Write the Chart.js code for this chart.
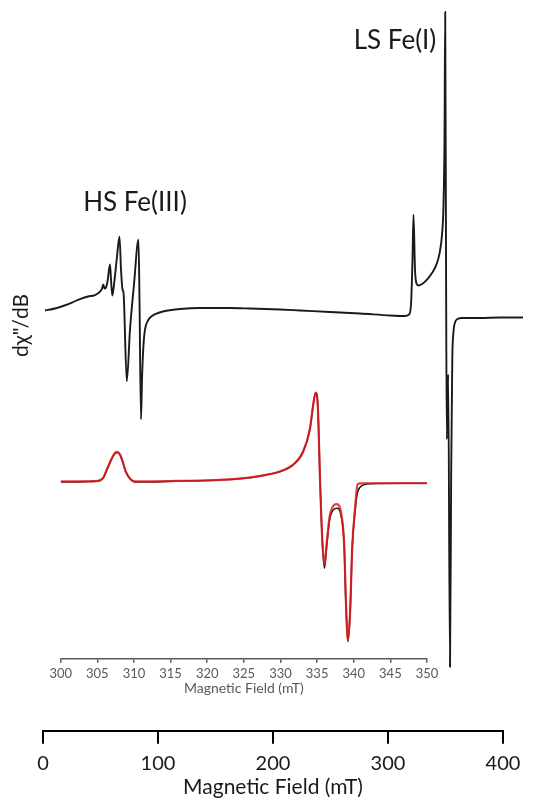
<!DOCTYPE html>
<html><head><meta charset="utf-8">
<script src="https://cdn.jsdelivr.net/npm/chart.js@4.4.1/dist/chart.umd.min.js"></script>
<style>
html,body{margin:0;padding:0;background:#fff;}
#wrap{position:relative;width:545px;height:808px;}
#wrap canvas{position:absolute;left:0;top:0;}
</style></head><body>
<div id="wrap"><canvas id="main" width="545" height="808"></canvas><canvas id="inset" width="545" height="808"></canvas></div>
<script>
// ---- main spectrum (full sweep) ----
const mainField = [1.74,10.43,17.39,25.22,32.17,39.13,45.22,49.57,51.30,52.43,53.48,54.78,56.09,58.26,59.13,60.26,61.74,63.91,66.52,67.83,69.13,70.00,72.87,75.65,79.13,83.04,83.91,85.22,86.09,87.39,88.70,91.30,94.78,100.0,106.09,119.13,136.52,162.61,180.0,206.09,223.48,249.57,275.65,301.74,314.78,318.26,320.0,321.30,322.17,323.48,324.78,326.52,329.57,333.91,338.26,341.74,344.78,346.96,348.26,349.13,349.74,350.43,351.13,352.35,353.91,354.96,355.91,356.96,358.26,360.43,364.35,380.0,397.39,417.39];
const mainSignal = [0.9,1.1,1.35,1.7,2.05,2.3,2.45,2.8,3.1,3.5,3.1,3.2,3.8,5.5,4.0,2.4,3.5,5.8,8.3,5.0,3.0,2.7,-6.2,-1.0,3.5,8.0,2.0,-10.0,-6.0,-2.5,-1.0,-0.1,0.35,0.65,0.85,1.05,1.15,1.15,1.1,1.0,0.9,0.75,0.6,0.4,0.35,0.5,1.5,6.0,10.5,5.0,3.6,3.4,3.55,4.0,4.65,5.4,6.6,8.5,11.5,18.0,30.8,7.0,-12.0,-5.5,-34.8,-15.0,-4.0,-1.2,-0.3,0.05,0.15,0.15,0.2,0.2];
const mainTicks = [0,100,200,300,400];

// ---- inset (300-350 mT): experiment (black) and simulation (red) ----
const insetField = [300,302,304,305.1,305.8,306.3,306.9,307.3,307.7,308.1,308.5,308.9,309.5,310.1,312,316,320,324,326,328,329.9,331.7,333.1,334.0,334.5,334.8,335.1,335.4,335.7,336.0,336.3,336.7,337.2,337.7,338.3,338.7,338.9,339.2,339.5,339.8,340.2,340.5,340.9,341.5,343.6,346,350];
const insetExp = [0,0,0.05,0.1,0.4,1.2,2.2,2.75,2.95,2.7,1.9,1.0,0.3,0,0,0.1,0.15,0.3,0.45,0.7,1.03,1.7,3.03,5.2,7.87,8.93,7.53,0.2,-5.8,-8.63,-6.47,-3.8,-2.8,-2.63,-3.47,-6.47,-11.47,-15.97,-13.13,-6.47,-2.8,-1.1,-0.5,-0.25,-0.15,-0.13,-0.13];
const insetSim = [0.05,0.05,0.05,0.1,0.4,1.25,2.25,2.8,3.0,2.75,1.95,1.0,0.3,0.05,0.05,0.1,0.15,0.3,0.45,0.7,1.05,1.7,3.05,5.25,7.9,8.95,7.5,0.2,-5.7,-8.3,-6.2,-3.5,-2.4,-2.23,-3.2,-6.3,-11.3,-15.9,-13.1,-6.47,-2.47,-0.3,-0.15,-0.13,-0.13,-0.13,-0.13];
const insetTicks = [300,305,310,315,320,325,330,335,340,345,350];

// ---- text labels ----
const peakLabels = ['HS Fe(III)', 'LS Fe(I)'];
const peakLabelField = [80, 306.1];
const peakLabelSignal = [11.7, 27.9];
const yTitle = 'd\u03c7"/dB';
const xTitle = 'Magnetic Field (mT)';

const FONT = 'Lato, "Open Sans", sans-serif';
const pts = (xs, ys) => xs.map((x, i) => ({x, y: ys[i]}));

const annot = {
  id: 'annot',
  afterDatasetsDraw(chart) {
    const {ctx, scales: {x, y}, chartArea} = chart;
    ctx.save();
    ctx.fillStyle = '#1a1a1a';
    ctx.textAlign = 'center';
    ctx.textBaseline = 'middle';
    peakLabels.forEach((t, i) => {
      ctx.font = '26px ' + FONT;
      ctx.fillText(t, x.getPixelForValue(peakLabelField[i]), y.getPixelForValue(peakLabelSignal[i]));
    });
    ctx.font = '21px ' + FONT;
    ctx.translate(chartArea.left - 21.5, y.getPixelForValue(-0.6));
    ctx.rotate(-Math.PI / 2);
    ctx.fillText(yTitle, 0, 0);
    ctx.restore();
  }
};

new Chart(document.getElementById('main'), {
  type: 'line',
  data: { datasets: [{
    data: pts(mainField, mainSignal),
    borderColor: '#1a1a1a', borderWidth: 1.9, pointRadius: 0,
    cubicInterpolationMode: 'monotone', clip: false
  }]},
  options: {
    responsive: false, animation: false,
    layout: { padding: {left: 43, right: 42, top: 8, bottom: 2} },
    plugins: { legend: {display: false}, tooltip: {enabled: false} },
    scales: {
      x: {
        type: 'linear', min: 0, max: 400,
        afterBuildTicks: (s) => { s.ticks = mainTicks.map(v => ({value: v})); },
        border: {color: '#000', width: 2},
        grid: {drawOnChartArea: false, drawTicks: true, tickLength: 13, color: '#000', lineWidth: 2},
        ticks: {color: '#1a1a1a', font: {family: FONT, size: 20}, padding: 8, maxRotation: 0},
        title: {display: true, text: xTitle, color: '#1a1a1a', font: {family: FONT, size: 21}, padding: {top: -9, bottom: 6}}
      },
      y: { display: false, min: -41.2, max: 31.2 }
    }
  },
  plugins: [annot]
});

new Chart(document.getElementById('inset'), {
  type: 'line',
  data: { datasets: [
    { data: pts(insetField, insetSim), borderColor: 'rgba(228,28,32,0.85)', borderWidth: 2.2, pointRadius: 0, cubicInterpolationMode: 'monotone' },
    { data: pts(insetField, insetExp), borderColor: '#1a1a1a', borderWidth: 1.6, pointRadius: 0, cubicInterpolationMode: 'monotone' }
  ]},
  options: {
    responsive: false, animation: false,
    layout: { padding: {left: 60.7, right: 118, top: 379, bottom: 110.8} },
    plugins: { legend: {display: false}, tooltip: {enabled: false} },
    scales: {
      x: {
        type: 'linear', min: 300, max: 350,
        afterBuildTicks: (s) => { s.ticks = insetTicks.map(v => ({value: v})); },
        border: {color: '#595959', width: 1.5},
        grid: {drawOnChartArea: false, drawTicks: true, tickLength: 4, color: '#595959', lineWidth: 1.5},
        ticks: {color: '#595959', font: {family: FONT, size: 13}, padding: 3, maxRotation: 0},
        title: {display: true, text: xTitle, color: '#595959', font: {family: FONT, size: 14}, padding: {top: -4, bottom: 0}}
      },
      y: { display: false, min: -17.7, max: 10.3 }
    }
  }
});
</script>
</body></html>
